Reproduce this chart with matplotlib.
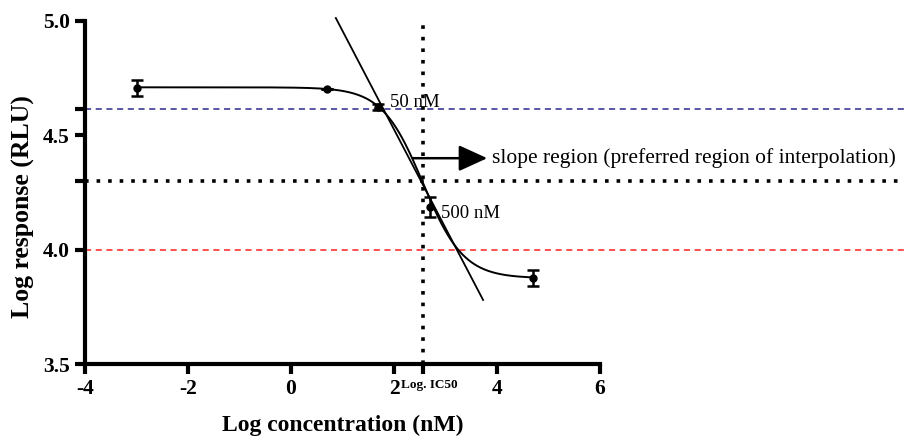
import numpy as np
import matplotlib
matplotlib.use("Agg")
import matplotlib.pyplot as plt
import matplotlib.transforms as mtransforms

# ---- data ----
log_conc = [-3.0, 0.699, 1.699, 2.699, 4.699]
log_resp = [4.707, 4.702, 4.624, 4.186, 3.876]
resp_err = [0.035, 0.0, 0.015, 0.045, 0.035]

# fitted 4PL curve parameters
fit_top = 4.71
fit_bottom = 3.875
log_ic50 = 2.56
hill = 1.1

# slope (tangent) line end points
slope_x = [0.87, 3.73]
slope_y = [5.013, 3.78]

# reference levels
blue_level = 4.615
half_level = 4.3
red_level = 4.0
ref_xmax = 11.9

xticks = [-4, -2, 0, 2, log_ic50, 4, 6]
xticklabels = ["-4", "-2", "0", "2", "Log. IC50", "4", "6"]
yticks = [3.5, 4.0, half_level, 4.5, blue_level, 5.0]
yticklabels = ["3.5", "4.0", "", "4.5", "", "5.0"]

arrow_y = 4.40
arrow_x0, arrow_x1 = 2.37, 3.81
note_text = "slope region (preferred region of interpolation)"

plt.rcParams['font.family'] = ['Liberation Serif', 'DejaVu Serif']

fig = plt.figure(figsize=(9.17, 4.37), dpi=100)
ax = fig.add_axes([85/917, 1-364/437, 515/917, (364-21)/437])
ax.set_xlim(-4, 6)
ax.set_ylim(3.5, 5.0)

# reference lines
ax.plot([-4, ref_xmax], [blue_level]*2, ls=(0, (4, 3)), color='#2b2b8c', lw=1.1, clip_on=False)
ax.plot([-4, ref_xmax], [red_level]*2, ls=(0, (4, 3)), color='#ff2020', lw=1.1, clip_on=False)
ax.plot([-4, ref_xmax], [half_level]*2, ls=(0, (1, 2.2)), color='black', lw=2.6, clip_on=False)
ax.plot([log_ic50]*2, [3.5, 5.0], ls=(0, (1, 2.2)), color='black', lw=2.6, clip_on=False)

# fitted curve
xc = np.linspace(log_conc[0], log_conc[-1], 400)
yc = fit_bottom + (fit_top - fit_bottom) / (1 + 10 ** ((xc - log_ic50) * hill))
ax.plot(xc, yc, color='black', lw=1.4)

# slope line
ax.plot(slope_x, slope_y, color='black', lw=1.3, clip_on=False)

# data
ax.errorbar(log_conc, log_resp, yerr=resp_err, fmt='o', color='black', ms=5,
            capsize=4, elinewidth=1.8, capthick=1.8)

# arrow & annotations
ax.annotate('', xy=(arrow_x1, arrow_y), xytext=(arrow_x0, arrow_y),
            arrowprops=dict(arrowstyle='-|>,head_length=1.75,head_width=0.8',
                            mutation_scale=10, lw=1.8, color='black', shrinkA=0, shrinkB=0),
            annotation_clip=False)
ax.text(arrow_x1 + 0.1, arrow_y, note_text, fontsize=15.5, va='center', ha='left', clip_on=False)
ax.text(log_conc[2] + 0.22, log_resp[2] + 0.02, "50 nM", fontsize=13.5, va='center', ha='left')
ax.text(log_conc[3] + 0.22, log_resp[3] - 0.03, "500 nM", fontsize=13.5, va='center', ha='left')

# axes styling
for s in ['top', 'right']:
    ax.spines[s].set_visible(False)
for s in ['left', 'bottom']:
    ax.spines[s].set_linewidth(3)
ax.set_xticks(xticks)
ax.set_xticklabels(xticklabels)
ax.set_yticks(yticks)
ax.set_yticklabels(yticklabels)
ax.tick_params(axis='both', direction='out', length=7, width=3, labelsize=15.5, pad=4)
for lab in ax.get_xticklabels() + ax.get_yticklabels():
    lab.set_fontweight('bold')
ic_lab = ax.get_xticklabels()[4]
ic_lab.set_fontsize(9.5)
ic_lab.set_transform(ic_lab.get_transform() +
                     mtransforms.ScaledTranslation(6/100, 0, fig.dpi_scale_trans))
ax.set_xlabel("Log concentration (nM)", fontsize=17, fontweight='bold', labelpad=11)
ax.set_ylabel("Log response (RLU)", fontsize=18.5, fontweight='bold')
ax.yaxis.set_label_coords(-0.097, 0.458)

fig.savefig("out.png", dpi=100)
